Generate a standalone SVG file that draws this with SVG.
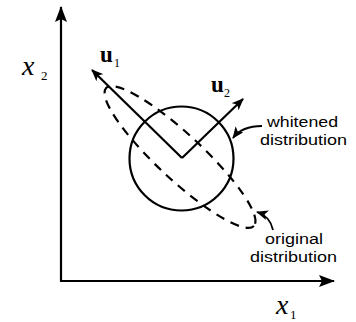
<svg xmlns="http://www.w3.org/2000/svg" width="356" height="322" viewBox="0 0 356 322">
<style>
.ln{fill:none;stroke:#000;stroke-width:2.2}
.dash{fill:none;stroke:#000;stroke-width:2.2;stroke-dasharray:9 7}
.ptr{fill:none;stroke:#000;stroke-width:1.8}
.lab{font-family:"Liberation Sans",Arial,sans-serif;font-size:15.5px;fill:#000}
.vec{font-family:"Liberation Serif","Times New Roman",serif;font-weight:bold;fill:#000}
.ax{font-family:"Liberation Serif","Times New Roman",serif;font-style:italic;fill:#000}
.sub{font-family:"Liberation Serif","Times New Roman",serif;fill:#000}
</style>
<defs>
<marker id="ah" viewBox="0 0 12 10" refX="11" refY="5" markerWidth="12" markerHeight="10" markerUnits="userSpaceOnUse" orient="auto">
<path d="M0,0 L12,5 L0,10 L3,5 Z" fill="#000"/>
</marker>
<marker id="axh" viewBox="0 0 16 12" refX="15" refY="6" markerWidth="16" markerHeight="12" markerUnits="userSpaceOnUse" orient="auto">
<path d="M0,0 L16,6 L0,12 L3,6 Z" fill="#000"/>
</marker>
<marker id="ph" viewBox="0 0 12 10" refX="11" refY="5" markerWidth="12" markerHeight="10" markerUnits="userSpaceOnUse" orient="auto">
<path d="M0,0 L12,5 L0,10 L3,5 Z" fill="#000"/>
</marker>
</defs>
<g id="connectors">
<path id="axis-y" class="ln" d="M61,281 L61,7" marker-end="url(#axh)"/>
<path id="axis-x" class="ln" d="M60,281 L334,281" marker-end="url(#axh)"/>
<path id="vec-u1" class="ln" d="M182,158 L92,70" marker-end="url(#ah)"/>
<path id="vec-u2" class="ln" d="M182,158 L243,99" marker-end="url(#ah)"/>
<path id="ptr-white" class="ptr" d="M262,126 Q242,126 233,138" marker-end="url(#ph)"/>
<path id="ptr-orig" class="ptr" d="M273,230 Q270,216 257,212" marker-end="url(#ph)"/>
</g>
<g id="whitened">
<circle cx="181.5" cy="158.5" r="52" class="ln"/>
</g>
<g id="original">
<ellipse cx="180" cy="157" rx="101" ry="22.5" transform="rotate(43 180 157)" class="dash"/>
</g>
<g id="labels">
<text class="ax" x="22" y="75" font-size="28">x</text>
<text class="sub" x="41" y="80" font-size="13">2</text>
<text class="ax" x="276" y="314" font-size="28">x</text>
<text class="sub" x="290" y="319" font-size="13">1</text>
<text class="vec" x="100" y="62" font-size="23">u</text>
<text class="sub" x="114" y="67" font-size="12">1</text>
<text class="vec" x="211" y="92" font-size="23">u</text>
<text class="sub" x="224" y="97" font-size="12">2</text>
<text class="lab" x="267" y="127" textLength="71" lengthAdjust="spacingAndGlyphs">whitened</text>
<text class="lab" x="260" y="145" textLength="87" lengthAdjust="spacingAndGlyphs">distribution</text>
<text class="lab" x="265" y="244" textLength="58" lengthAdjust="spacingAndGlyphs">original</text>
<text class="lab" x="250" y="262" textLength="87" lengthAdjust="spacingAndGlyphs">distribution</text>
</g>
</svg>
